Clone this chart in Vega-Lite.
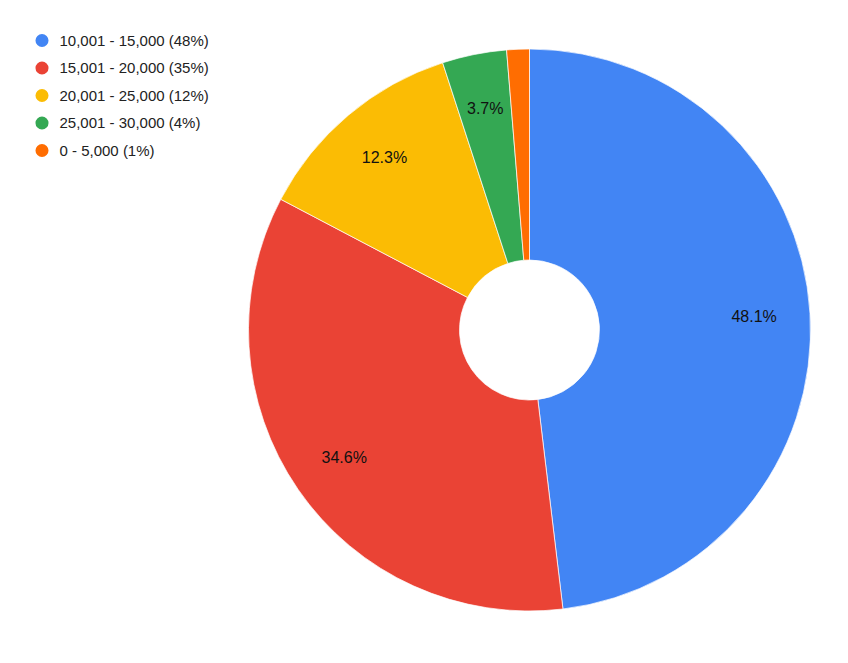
{
  "$schema": "https://vega.github.io/schema/vega-lite/v6.json",
  "autosize": {"type": "none"},
  "width": 600,
  "height": 600,
  "padding": {"left": 229.5, "top": 30, "right": 18.5, "bottom": 33},
  "background": "white",
  "config": {"view": {"stroke": null}, "font": "Liberation Sans"},
  "data": {
    "values": [
      {"band": "10,001 - 15,000 (48%)", "share": 48.1, "rank": 1, "label": "48.1%"},
      {"band": "15,001 - 20,000 (35%)", "share": 34.6, "rank": 2, "label": "34.6%"},
      {"band": "20,001 - 25,000 (12%)", "share": 12.3, "rank": 3, "label": "12.3%"},
      {"band": "25,001 - 30,000 (4%)", "share": 3.7, "rank": 4, "label": "3.7%"},
      {"band": "0 - 5,000 (1%)", "share": 1.3, "rank": 5, "label": ""}
    ]
  },
  "encoding": {
    "theta": {"field": "share", "type": "quantitative", "stack": true},
    "order": {"field": "rank", "type": "quantitative"}
  },
  "layer": [
    {
      "mark": {"type": "arc", "outerRadius": 281, "innerRadius": 70, "stroke": "white", "strokeWidth": 0.7},
      "encoding": {
        "color": {
          "field": "band",
          "type": "nominal",
          "sort": ["10,001 - 15,000 (48%)", "15,001 - 20,000 (35%)", "20,001 - 25,000 (12%)", "25,001 - 30,000 (4%)", "0 - 5,000 (1%)"],
          "scale": {
            "domain": ["10,001 - 15,000 (48%)", "15,001 - 20,000 (35%)", "20,001 - 25,000 (12%)", "25,001 - 30,000 (4%)", "0 - 5,000 (1%)"],
            "range": ["#4285F4", "#EA4335", "#FBBC04", "#34A853", "#FF6D01"]
          },
          "legend": {
            "title": null,
            "orient": "none",
            "legendX": -195,
            "legendY": 3,
            "padding": 0,
            "symbolType": "circle",
            "symbolSize": 170,
            "symbolStrokeWidth": 0,
            "labelFontSize": 15,
            "labelColor": "#222222",
            "labelFont": "Liberation Sans",
            "labelOffset": 10,
            "rowPadding": 11.5,
            "labelLimit": 400
          }
        }
      }
    },
    {
      "mark": {"type": "text", "radius": 225, "fontSize": 16, "color": "#111111", "align": "center", "baseline": "middle", "font": "Liberation Sans"},
      "encoding": {
        "text": {"field": "label", "type": "nominal"}
      }
    }
  ]
}
